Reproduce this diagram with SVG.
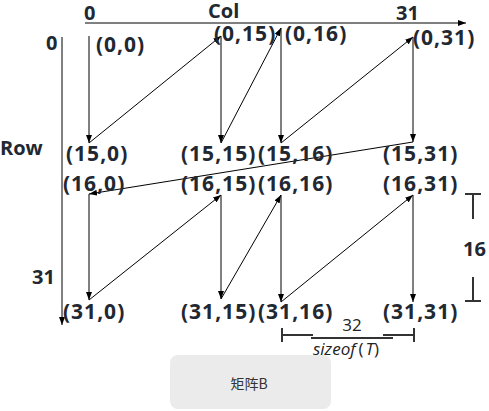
<svg xmlns="http://www.w3.org/2000/svg" width="489" height="411" viewBox="0 0 489 411">
<style>
.lbl{font-family:"Open Sans","Noto Sans",sans-serif;font-weight:bold;font-size:21px;fill:#222831;letter-spacing:1px}
.ax{font-family:"Open Sans","Noto Sans",sans-serif;font-weight:bold;font-size:20px;fill:#222831}
.ln{stroke:#000;stroke-width:1;fill:none}
.dm{stroke:#333;stroke-width:2;fill:none}
</style>
<defs>
<marker id="ah" markerWidth="8" markerHeight="6" refX="8" refY="3" orient="auto" markerUnits="userSpaceOnUse">
<path d="M0,0 L8,3 L0,6 z" fill="#000"/>
</marker>
</defs>
<rect width="489" height="411" fill="#fff"/>
<g id="axes">
<path class="ln" d="M85,23 H466" stroke-width="1.4" marker-end="url(#ah)"/>
<path class="ln" d="M62,37 V325" stroke-width="1.4" marker-end="url(#ah)"/>
<text class="ax" x="84" y="20">0</text>
<text class="ax" x="208" y="18" font-size="19">Col</text>
<text class="ax" x="396" y="20">31</text>
<text class="ax" x="46" y="50">0</text>
<text class="ax" x="0" y="155">Row</text>
<text class="ax" x="32" y="284">31</text>
</g>
<g id="connectors">
<path class="ln" d="M89,36 L89,143" marker-end="url(#ah)"/>
<path class="ln" d="M89,143 L221,36" stroke-width="0.8" marker-end="url(#ah)"/>
<path class="ln" d="M221,36 L221,143" marker-end="url(#ah)"/>
<path class="ln" d="M221,143 L281,28" stroke-width="0.8" marker-end="url(#ah)"/>
<path class="ln" d="M281,28 L281,143" marker-end="url(#ah)"/>
<path class="ln" d="M281,143 L413,37" stroke-width="0.8" marker-end="url(#ah)"/>
<path class="ln" d="M413,37 L413,142" marker-end="url(#ah)"/>
<path class="ln" d="M413,142 L89,194" stroke-width="0.8" marker-end="url(#ah)"/>
<path class="ln" d="M89,194 L89,300" marker-end="url(#ah)"/>
<path class="ln" d="M89,300 L221,195" stroke-width="0.8" marker-end="url(#ah)"/>
<path class="ln" d="M221,195 L221,299" marker-end="url(#ah)"/>
<path class="ln" d="M221,299 L281,195" stroke-width="0.8" marker-end="url(#ah)"/>
<path class="ln" d="M281,195 L281,302" marker-end="url(#ah)"/>
<path class="ln" d="M281,302 L413,195" stroke-width="0.8" marker-end="url(#ah)"/>
<path class="ln" d="M413,195 L413,302" marker-end="url(#ah)"/>
</g>
<g id="n0_0"><text class="lbl" x="96" y="52">(0,0)</text></g>
<g id="n0_15"><text class="lbl" x="214" y="41">(0,15)</text></g>
<g id="n0_16"><text class="lbl" x="285" y="41">(0,16)</text></g>
<g id="n0_31"><text class="lbl" x="413" y="45">(0,31)</text></g>
<g id="n15_0"><text class="lbl" x="66" y="161">(15,0)</text></g>
<g id="n15_15"><text class="lbl" x="181" y="161">(15,15)</text></g>
<g id="n15_16"><text class="lbl" x="258" y="161">(15,16)</text></g>
<g id="n15_31"><text class="lbl" x="383" y="161">(15,31)</text></g>
<g id="n16_0"><text class="lbl" x="63" y="191">(16,0)</text></g>
<g id="n16_15"><text class="lbl" x="181" y="191">(16,15)</text></g>
<g id="n16_16"><text class="lbl" x="258" y="191">(16,16)</text></g>
<g id="n16_31"><text class="lbl" x="383" y="191">(16,31)</text></g>
<g id="n31_0"><text class="lbl" x="63" y="319">(31,0)</text></g>
<g id="n31_15"><text class="lbl" x="181" y="319">(31,15)</text></g>
<g id="n31_16"><text class="lbl" x="258" y="319">(31,16)</text></g>
<g id="n31_31"><text class="lbl" x="383" y="319">(31,31)</text></g>
<g id="dim16">
<path class="dm" d="M465,194 H481 M473,194 V219 M473,277 V301 M465,301 H481"/>
<text class="ax" x="463" y="256">16</text>
</g>
<g id="dim32">
<path class="dm" d="M282,328 V342 M282,335 H313 M311,338 H393 M383,335 H414 M414,328 V342" stroke-width="1.8"/>
<text x="352" y="331" text-anchor="middle" font-family="Open Sans, sans-serif" font-size="17" fill="#222">32</text>
<text x="313" y="355" font-family="Open Sans, sans-serif" font-size="17" fill="#222"><tspan font-style="italic">sizeof</tspan><tspan dx="3">(</tspan><tspan font-style="italic" dx="2">T</tspan><tspan>)</tspan></text>
</g>
<g id="title">
<rect x="170" y="355" width="161" height="54" rx="8" fill="#ebebeb"/>
<text x="249" y="389" text-anchor="middle" font-family="Noto Sans CJK SC, sans-serif" font-size="14" fill="#333">矩阵B</text>
</g>
</svg>
